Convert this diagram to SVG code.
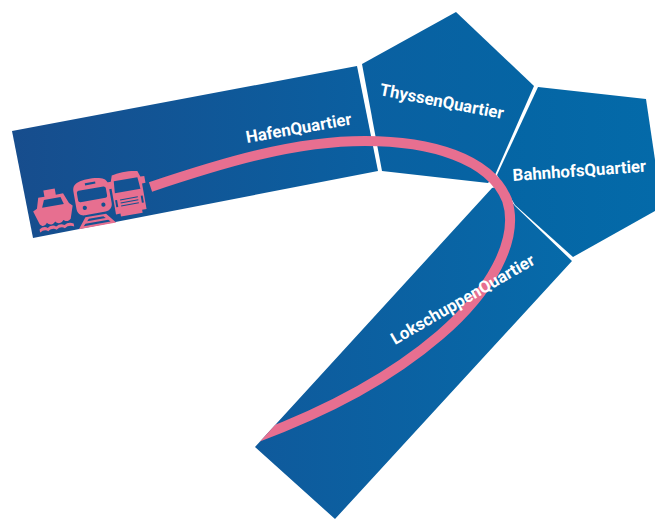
<svg xmlns="http://www.w3.org/2000/svg" width="655" height="520" viewBox="0 0 655 520">
<style>
.lbl{font-family:"Roboto","Liberation Sans",sans-serif;font-weight:700;font-size:16.800px;fill:#fff}
.ic{fill:#e76f90}
.cut{fill:#14508f}
</style>
<defs>
<linearGradient id="gh" gradientUnits="userSpaceOnUse" x1="12" y1="0" x2="378" y2="0"><stop offset="0" stop-color="#174d8d"/><stop offset="1" stop-color="#0a60a1"/></linearGradient>
<linearGradient id="gt" gradientUnits="userSpaceOnUse" x1="362" y1="0" x2="534" y2="0"><stop offset="0" stop-color="#0a60a1"/><stop offset="1" stop-color="#0565a4"/></linearGradient>
<linearGradient id="gb" gradientUnits="userSpaceOnUse" x1="497" y1="0" x2="655" y2="0"><stop offset="0" stop-color="#0565a4"/><stop offset="1" stop-color="#046aa9"/></linearGradient>
<linearGradient id="gl" gradientUnits="userSpaceOnUse" x1="255" y1="0" x2="572" y2="0"><stop offset="0" stop-color="#0f5a9c"/><stop offset="1" stop-color="#066aa9"/></linearGradient>
<clipPath id="ce"><polygon points="140,0 655,0 655,520 255,520 255,447 340,354 140,200"/></clipPath>
</defs>
<g id="hafen"><polygon points="12,131 357,66 378,171 33,238" fill="url(#gh)"/></g>
<g id="thyssen"><polygon points="362,64 456,12 534,86 495,175 488,183 382,171" fill="url(#gt)"/></g>
<g id="bahnhofs"><polygon points="538,87 646,99 662,207 573,257 515,205 497,175" fill="url(#gb)"/></g>
<g id="lokschuppen"><polygon points="492,188 500,186 515,206 572,261 335,519 255,447" fill="url(#gl)"/></g>
<g id="connectors"><path d="M150.500 187C225 162 295 141 365 141C430 141 490 158 507 200C520 240 490 292 440 335C390 378 330 410 255 438" fill="none" stroke="#e76f90" stroke-width="10" clip-path="url(#ce)"/></g>
<g id="icons">
<g id="ship" transform="translate(53 209) rotate(-10) scale(1.050)">
<path class="ic" d="M-6-19H5V-13H12L16-3 19 0 15 12C12 15 9 13 8 12C5 15 2 15 0 12C-3 15-6 15-8 12C-10 15-13 15-15 12L-19-1-15-3-12-13H-6Z"/>
<path class="cut" d="M-7-10H9L11-3-10-3Z"/>
<path class="ic" d="M-16 17C-13 15-10 15-8 17C-5 15-2 15 0 17C3 15 6 15 8 17C11 15 14 15 17 17V20C14 18 11 18 8 20C6 18 3 18 0 20C-2 18-5 18-8 20C-10 18-13 18-16 20Z"/>
</g>
<g id="train" transform="translate(93 200) rotate(-10) scale(1.050)">
<path class="ic" fill-rule="evenodd" d="M-11-19C-5-21 5-21 11-19C15-18 17-15 17-11V6C17 10 14 13 10 13H-10C-14 13-17 10-17 6V-11C-17-15-15-18-11-19ZM-5-17V-15H5V-17ZM-12-11C-13-11-14-10-14-9V-2C-14-1-13 0-12 0H12C13 0 14-1 14-2V-9C14-10 13-11 12-11Z"/>
<circle class="cut" cx="-9" cy="6" r="2"/><circle class="cut" cx="9" cy="6" r="2"/>
<path class="ic" d="M-10 15H10L18 25H-18ZM-7 17-9 19H9L7 17ZM-11 21-13 23H13L11 21Z"/>
</g>
<g id="truck" transform="translate(128 193) rotate(-10)">
<path class="ic" fill-rule="evenodd" d="M-13-20C-6-22 6-22 13-20L15-14 19-14V-7H15.500V19H11V22H-11V19H-15.500V-7H-19V-14H-15ZM-12-14-13-2H13L12-14Z"/>
<path class="cut" d="M-9 5H9V6H-9ZM-9 8H9V9H-9ZM-9 11H9V12H-9ZM-14 5H-12V12H-14ZM12 5H14V12H12Z"/>
</g>
</g>
<g id="labels">
<text class="lbl" transform="translate(247 143) rotate(-10)">HafenQuartier</text>
<text class="lbl" transform="translate(379 95) rotate(11)">ThyssenQuartier</text>
<text class="lbl" transform="translate(513 181) rotate(-4)">BahnhofsQuartier</text>
<text class="lbl" transform="translate(395 345) rotate(-30)">LokschuppenQuartier</text>
</g>
</svg>
